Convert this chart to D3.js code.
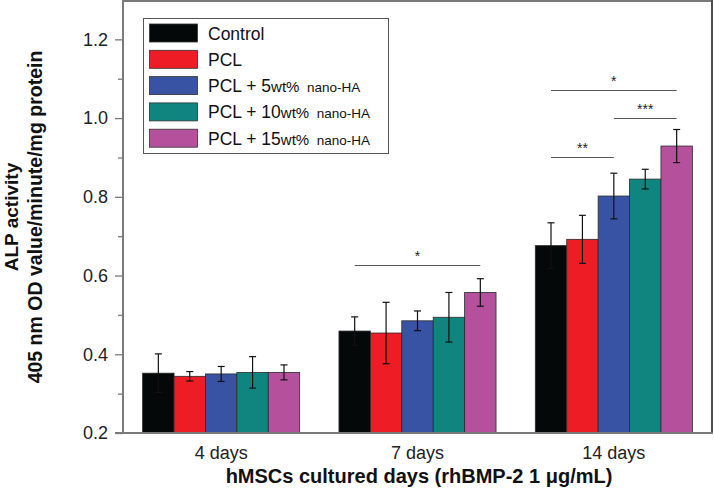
<!DOCTYPE html>
<html>
<head>
<meta charset="utf-8">
<script src="https://cdn.jsdelivr.net/npm/d3@7"></script>
<style>
  html, body { margin: 0; padding: 0; background: #fff; }
  svg { display: block; font-family: "Liberation Sans", Arial, Helvetica, sans-serif; }
</style>
</head>
<body>
<svg id="chart" width="714" height="488"></svg>
<script>
// ---- data ----
const categories = ["4 days", "7 days", "14 days"];
const seriesNames = ["Control", "PCL", "PCL + 5wt% nano-HA", "PCL + 10wt% nano-HA", "PCL + 15wt% nano-HA"];
const seriesColors = ["#050808", "#ee1c25", "#3953a4", "#10857f", "#b5519c"];
const control   = [0.352, 0.459, 0.676];
const pcl       = [0.344, 0.454, 0.692];
const pcl5      = [0.350, 0.485, 0.802];
const pcl10     = [0.354, 0.494, 0.845];
const pcl15     = [0.354, 0.557, 0.929];
const controlErr = [0.049, 0.036, 0.058];
const pclErr     = [0.012, 0.078, 0.061];
const pcl5Err    = [0.019, 0.025, 0.058];
const pcl10Err   = [0.040, 0.063, 0.025];
const pcl15Err   = [0.019, 0.035, 0.042];
const yTicks = [0.2, 0.4, 0.6, 0.8, 1.0, 1.2];
const yMinorTicks = [0.3, 0.5, 0.7, 0.9, 1.1];
// significance brackets: category index, from series, to series, level value, label
const sigCat   = [1, 2, 2, 2];
const sigFrom  = [0, 0, 2, 0];
const sigTo    = [4, 2, 4, 4];
const sigLevel = [0.627, 0.901, 1.001, 1.072];
const sigLabel = ["*", "**", "***", "*"];

const values = [control, pcl, pcl5, pcl10, pcl15];
const errors = [controlErr, pclErr, pcl5Err, pcl10Err, pcl15Err];

// ---- layout ----
const svg = d3.select("#chart");
const mLeft = 123, mRight = 712, mTop = 1, mBottom = 433;

const x = d3.scaleBand().domain(categories).range([mLeft, mRight]).paddingInner(0.2).paddingOuter(0.1);
const xs = d3.scaleBand().domain(d3.range(seriesNames.length)).range([0, x.bandwidth()]);
const y = d3.scaleLinear().domain([0.2, 1.3]).range([mBottom, mTop - 1]);

// frame
svg.append("line").attr("x1", mLeft).attr("x2", mRight).attr("y1", mTop).attr("y2", mTop)
  .attr("stroke", "#7a7a7a").attr("stroke-width", 2);
svg.append("line").attr("x1", mRight).attr("x2", mRight).attr("y1", 0).attr("y2", mBottom)
  .attr("stroke", "#505050").attr("stroke-width", 2);

// bars
const flat = [];
categories.forEach((c, ci) => values.forEach((s, si) => flat.push({c, ci, si, v: s[ci], e: errors[si][ci]})));

svg.append("g").selectAll("rect").data(flat).join("rect")
  .attr("x", d => x(d.c) + xs(d.si))
  .attr("y", d => y(d.v))
  .attr("width", xs.bandwidth())
  .attr("height", d => y(0.2) - y(d.v))
  .attr("fill", d => seriesColors[d.si])
  .attr("stroke", "#2a2a2a").attr("stroke-width", 0.8);

// error bars
const eb = svg.append("g").attr("stroke", "#111").attr("stroke-width", 1.2);
flat.forEach(d => {
  const cx = x(d.c) + xs(d.si) + xs.bandwidth() / 2;
  const y1 = y(d.v + d.e), y2 = y(d.v - d.e);
  eb.append("line").attr("x1", cx).attr("x2", cx).attr("y1", y1).attr("y2", y2);
  eb.append("line").attr("x1", cx - 3.5).attr("x2", cx + 3.5).attr("y1", y1).attr("y2", y1);
  eb.append("line").attr("x1", cx - 3.5).attr("x2", cx + 3.5).attr("y1", y2).attr("y2", y2);
});

// significance
sigCat.forEach((ci, i) => {
  const c = categories[ci];
  const x1 = x(c) + xs(sigFrom[i]) + xs.bandwidth() / 2;
  const x2 = x(c) + xs(sigTo[i]) + xs.bandwidth() / 2;
  const yy = Math.round(y(sigLevel[i])) + 0.5;
  svg.append("line").attr("x1", x1).attr("x2", x2).attr("y1", yy).attr("y2", yy)
    .attr("stroke", "#555").attr("stroke-width", 1);
  svg.append("text").attr("x", (x1 + x2) / 2).attr("y", yy - 5)
    .attr("text-anchor", "middle").attr("font-size", 14).attr("fill", "#222")
    .text(sigLabel[i]);
});

// y axis
const yAxis = d3.axisLeft(y).tickValues(yTicks).tickFormat(d3.format(".1f")).tickSize(8).tickPadding(7);
const ya = svg.append("g").attr("transform", `translate(${mLeft},0)`).call(yAxis);
ya.select(".domain").attr("stroke", "#7a7a7a").attr("stroke-width", 2).attr("d", `M0,${mBottom}V0`);
ya.selectAll(".tick line").attr("stroke", "#7a7a7a").attr("stroke-width", 1.3);
ya.selectAll(".tick text").attr("font-size", 18).attr("fill", "#222").attr("font-family", "Liberation Sans, Arial, sans-serif");
const yMinor = d3.axisLeft(y).tickValues(yMinorTicks).tickSize(5).tickFormat("");
const ym = svg.append("g").attr("transform", `translate(${mLeft},0)`).call(yMinor);
ym.select(".domain").remove();
ym.selectAll(".tick line").attr("stroke", "#7a7a7a").attr("stroke-width", 1.3);

// x axis
const xAxis = d3.axisBottom(x).tickSize(0).tickPadding(13);
const xa = svg.append("g").attr("transform", `translate(0,${mBottom})`).call(xAxis);
xa.select(".domain").attr("stroke", "#7a7a7a").attr("stroke-width", 2).attr("d", `M${mLeft - 8},0H${mRight + 1}`);
xa.selectAll(".tick text").attr("font-size", 18).attr("fill", "#222").attr("font-family", "Liberation Sans, Arial, sans-serif");

// axis titles
svg.append("text").attr("x", 419).attr("y", 483)
  .attr("text-anchor", "middle").attr("font-size", 20).attr("font-weight", "bold").attr("fill", "#111")
  .text("hMSCs cultured days (rhBMP-2 1 μg/mL)");
svg.append("text").attr("transform", `translate(18,${(mTop + mBottom) / 2}) rotate(-90)`)
  .attr("text-anchor", "middle").attr("font-size", 19).attr("font-weight", "bold").attr("fill", "#111")
  .text("ALP activity");
svg.append("text").attr("transform", `translate(42,${(mTop + mBottom) / 2}) rotate(-90)`)
  .attr("text-anchor", "middle").attr("font-size", 19.5).attr("font-weight", "bold").attr("fill", "#111")
  .text("405 nm OD value/minute/mg protein");

// legend
const lg = svg.append("g");
lg.append("rect").attr("x", 143.5).attr("y", 18.5).attr("width", 245).attr("height", 135)
  .attr("fill", "#fff").attr("stroke", "#555").attr("stroke-width", 1);
const legendParts = [
  [["Control", 17.5]],
  [["PCL", 17.5]],
  [["PCL + 5", 17.5], ["wt%", 15], ["\u00a0\u00a0nano-HA", 13.5]],
  [["PCL + 10", 17.5], ["wt%", 15], ["\u00a0\u00a0nano-HA", 13.5]],
  [["PCL + 15", 17.5], ["wt%", 15], ["\u00a0\u00a0nano-HA", 13.5]]
];
seriesNames.forEach((name, i) => {
  const yy = 24 + i * 26.3;
  lg.append("rect").attr("x", 149.5).attr("y", yy).attr("width", 48).attr("height", 18)
    .attr("fill", seriesColors[i]).attr("stroke", "#333").attr("stroke-width", 0.8);
  const t = lg.append("text").attr("x", 208).attr("y", yy + 15.5).attr("fill", "#111");
  legendParts[i].forEach(p => t.append("tspan").attr("font-size", p[1]).text(p[0]));
});
</script>
</body>
</html>
